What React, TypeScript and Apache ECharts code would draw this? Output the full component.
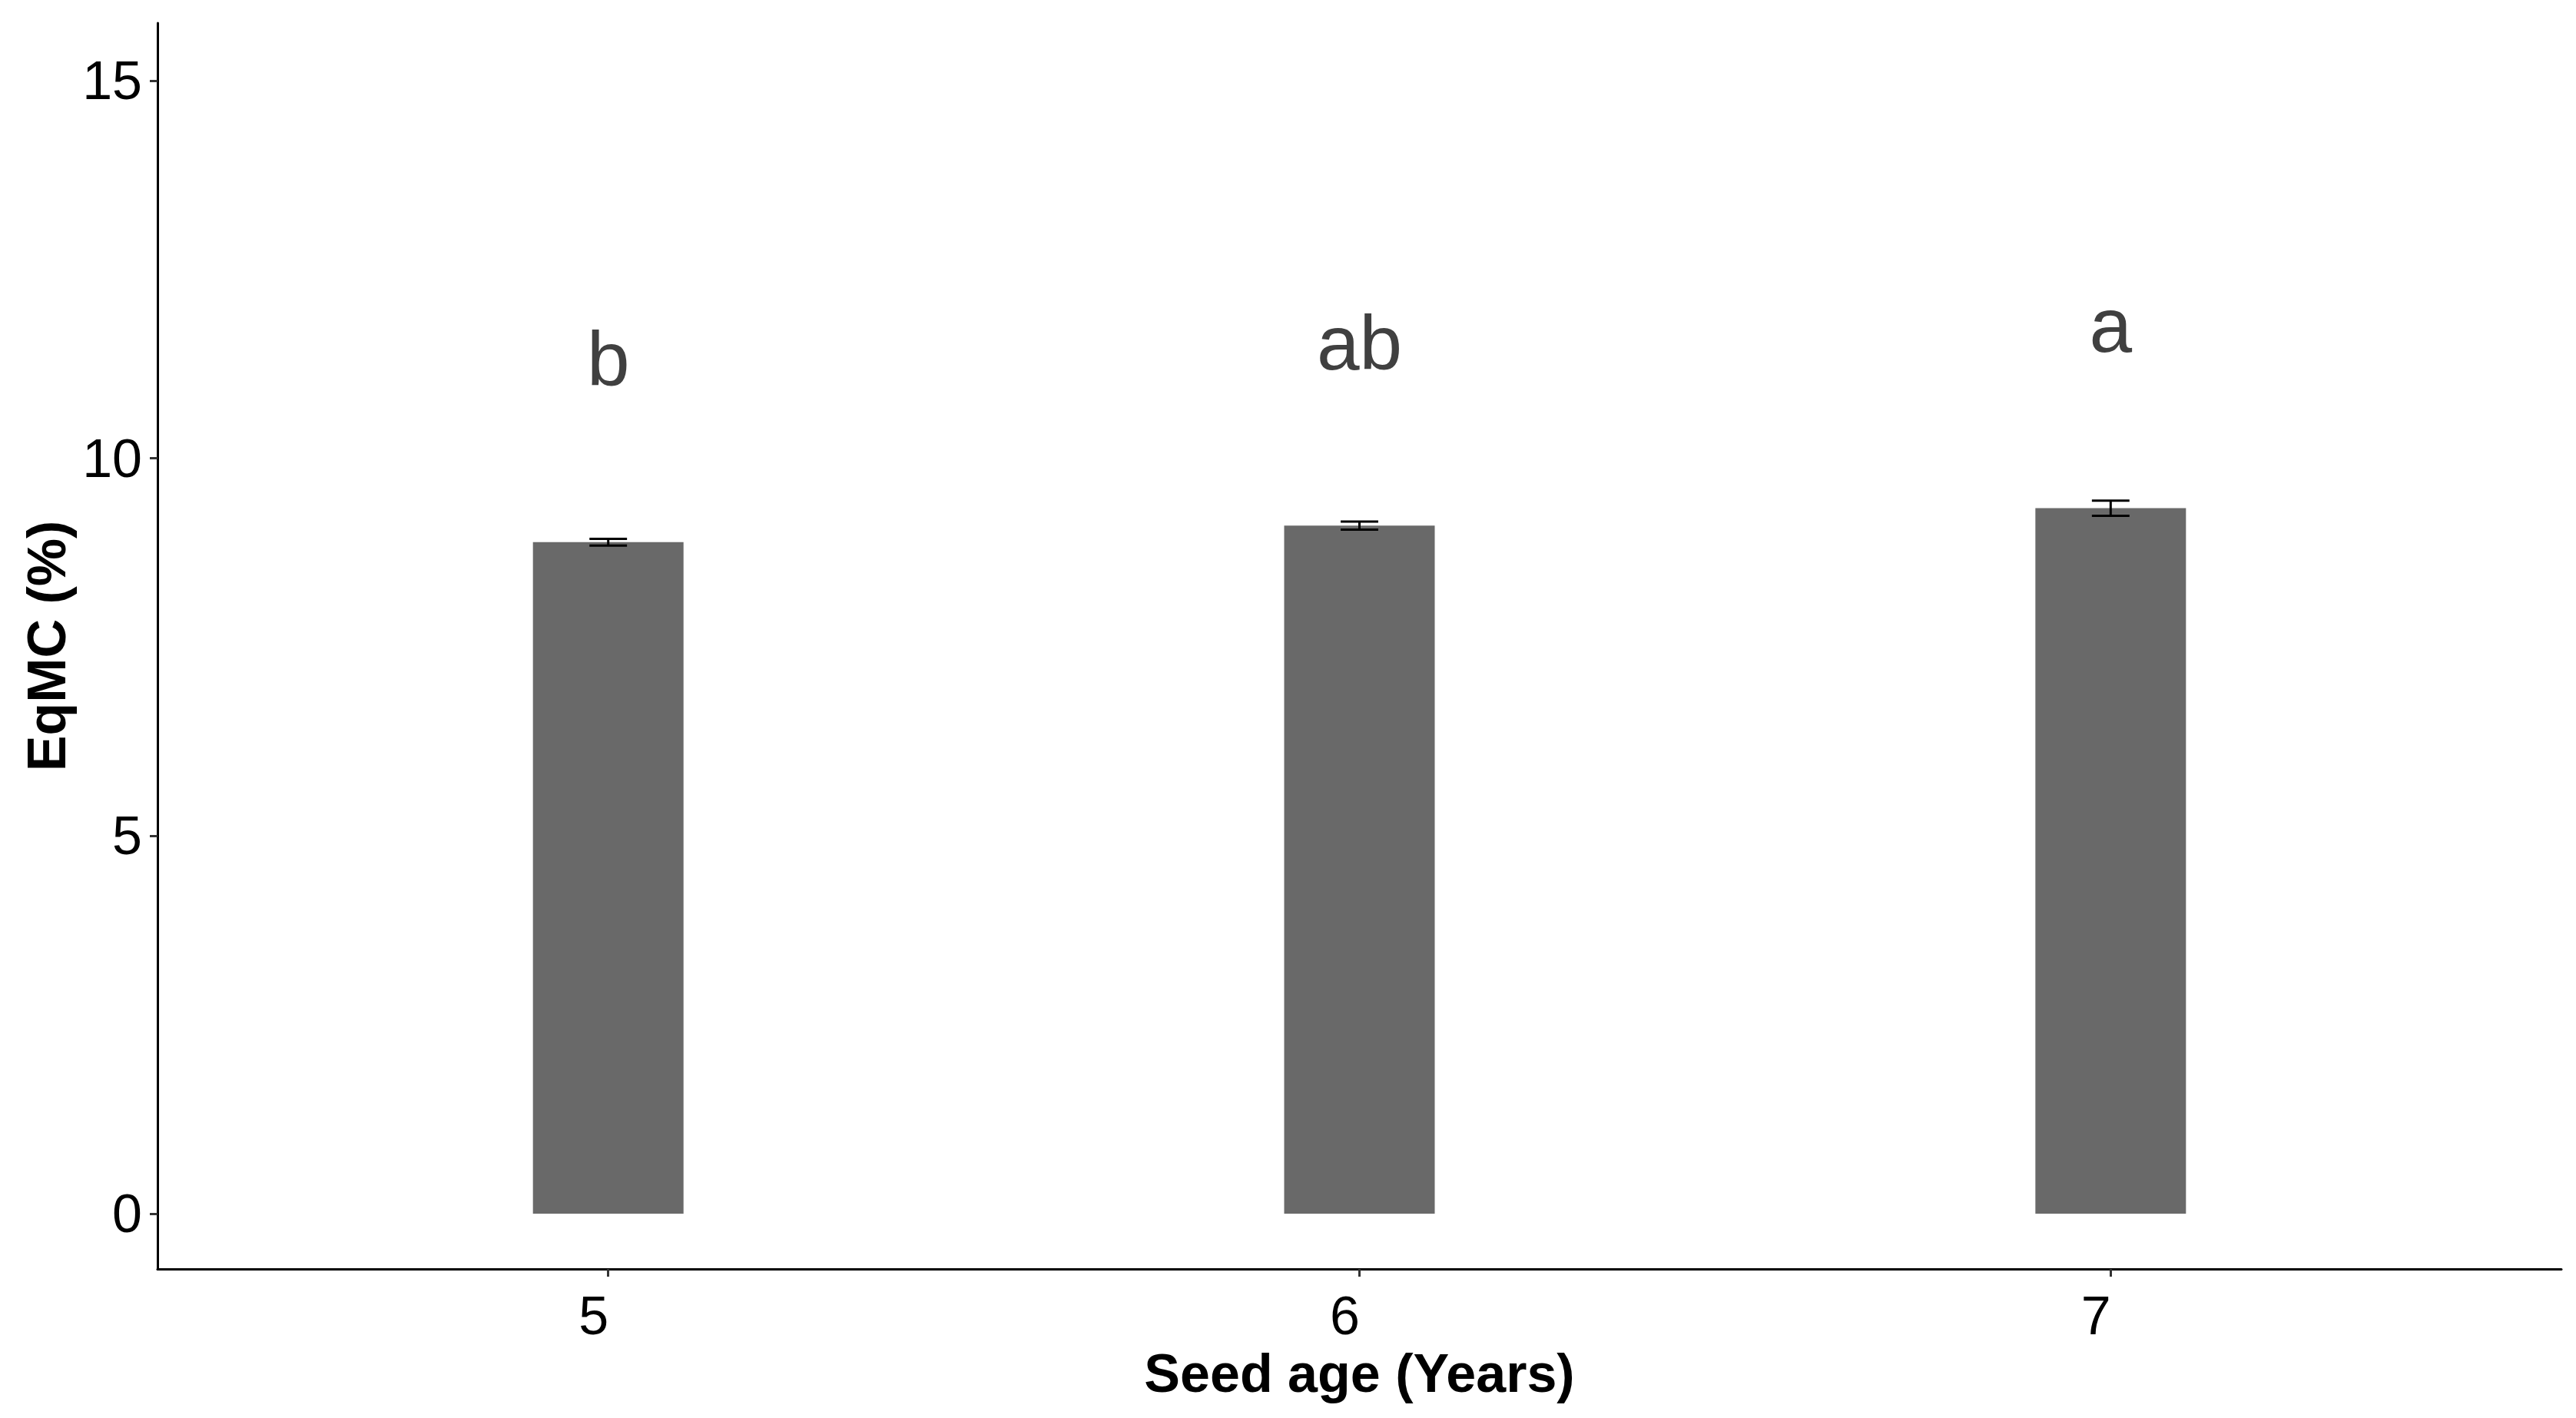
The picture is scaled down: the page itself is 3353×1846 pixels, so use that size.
import React, { useEffect, useRef } from "react";
import * as echarts from "echarts";

const categories = ["5", "6", "7"];
const means = [8.89, 9.11, 9.34];
const errors = [0.045, 0.053, 0.1];
const letters = ["b", "ab", "a"];
const letterY = [11.32, 11.53, 11.77];
const yTicks = [0, 5, 10, 15];

const FONT = "'Liberation Sans', Arial, Helvetica, sans-serif";

export default function App() {
  const ref = useRef<HTMLDivElement>(null);
  useEffect(() => {
    if (!ref.current) return;
    const chart = echarts.init(ref.current, undefined, { renderer: "svg" });
    const xPos = categories.map((_, i) => i + 1);
    chart.setOption({
      animation: false,
      backgroundColor: "#ffffff",
      grid: { left: 205, right: 19, top: 30, bottom: 194, containLabel: false },
      xAxis: {
        type: "value",
        min: 0.4,
        max: 3.6,
        splitLine: { show: false },
        axisLine: { show: true, onZero: false, lineStyle: { color: "#000000", width: 3 } },
        axisTick: { show: true, customValues: xPos, length: 10, lineStyle: { color: "#333333", width: 3 } },
        axisLabel: {
          customValues: xPos,
          formatter: (v: number) => categories[Math.round(v) - 1] ?? "",
          fontSize: 70,
          fontFamily: FONT,
          color: "#000000",
          margin: 26,
          padding: [0, 38, 0, 0],
        },
        name: "Seed age (Years)",
        nameLocation: "middle",
        nameGap: 101,
        nameTextStyle: { fontSize: 70, fontWeight: "bold", fontFamily: FONT, color: "#000000" },
      },
      yAxis: {
        type: "value",
        min: -0.732,
        max: 15.763,
        splitLine: { show: false },
        axisLine: { show: true, onZero: false, lineStyle: { color: "#000000", width: 3 } },
        axisTick: { show: true, customValues: yTicks, length: 10, lineStyle: { color: "#333333", width: 3 } },
        axisLabel: {
          customValues: yTicks,
          fontSize: 70,
          fontFamily: FONT,
          color: "#000000",
          margin: 20,
        },
        name: "EqMC (%)",
        nameLocation: "middle",
        nameGap: 106,
        nameTextStyle: { fontSize: 70, fontWeight: "bold", fontFamily: FONT, color: "#000000" },
      },
      series: [
        {
          type: "bar",
          data: xPos.map((x, i) => [x, means[i]]),
          barWidth: 196,
          itemStyle: { color: "#696969" },
          silent: true,
        },
        {
          type: "custom",
          data: xPos.map((x, i) => [x, means[i], errors[i]]),
          renderItem: (params: any, api: any) => {
            const x = api.value(0);
            const m = api.value(1);
            const e = api.value(2);
            const top = api.coord([x, m + e]);
            const bot = api.coord([x, m - e]);
            const half = api.size([0.05, 0])[0] / 2;
            const style = { stroke: "#000000", lineWidth: 3 };
            return {
              type: "group",
              children: [
                { type: "line", shape: { x1: top[0], y1: top[1], x2: bot[0], y2: bot[1] }, style },
                { type: "line", shape: { x1: top[0] - half, y1: top[1], x2: top[0] + half, y2: top[1] }, style },
                { type: "line", shape: { x1: bot[0] - half, y1: bot[1], x2: bot[0] + half, y2: bot[1] }, style },
              ],
            };
          },
          z: 5,
          silent: true,
        },
        {
          type: "custom",
          data: xPos.map((x, i) => [x, letterY[i], i]),
          renderItem: (params: any, api: any) => {
            const p = api.coord([api.value(0), api.value(1)]);
            return {
              type: "text",
              x: p[0],
              y: p[1],
              style: {
                text: letters[api.value(2)],
                fontSize: 100,
                fontFamily: FONT,
                fill: "#404040",
                align: "center",
                verticalAlign: "middle",
              },
            };
          },
          z: 6,
          silent: true,
        },
      ],
    });
    return () => chart.dispose();
  }, []);
  return (
    <div
      ref={ref}
      style={{ position: "absolute", left: 0, top: 0, width: 3353, height: 1846 }}
    />
  );
}
